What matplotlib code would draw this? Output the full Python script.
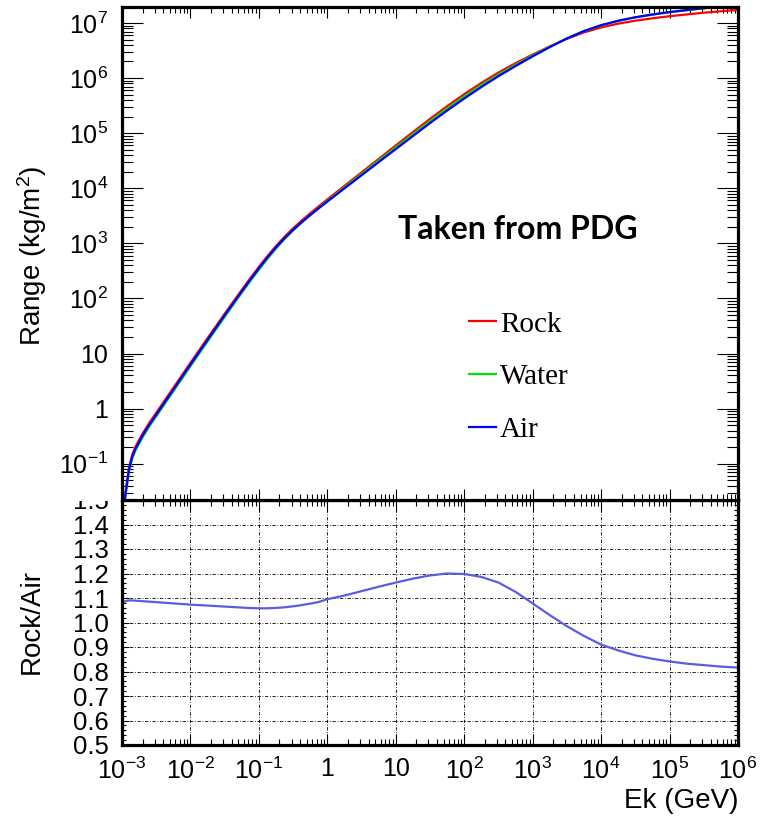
import numpy as np
import matplotlib
matplotlib.use('Agg')
import matplotlib.pyplot as plt
from matplotlib.ticker import LogLocator, NullFormatter, FuncFormatter, MultipleLocator
from matplotlib.patches import Rectangle

plt.rcParams['font.family'] = ['Liberation Sans', 'DejaVu Sans']
plt.rcParams['mathtext.fontset'] = 'custom'
plt.rcParams['mathtext.rm'] = 'Liberation Sans'
plt.rcParams['mathtext.it'] = 'Liberation Sans:italic'
plt.rcParams['mathtext.bf'] = 'Liberation Sans:bold'

# log10 of kinetic energy (GeV)
log_ek = [-3.00, -2.95, -2.90, -2.85, -2.80, -2.70, -2.60, -2.50, -2.25, -2.00, -1.75, -1.50,
          -1.25, -1.125, -1.00, -0.875, -0.75, -0.625, -0.50, -0.375, -0.25, -0.125, 0.00,
          0.25, 0.50, 0.75, 1.00, 1.25, 1.50, 1.75, 2.00, 2.25, 2.50, 2.75, 3.00,
          3.25, 3.50, 3.75, 4.00, 4.25, 4.50, 4.75, 5.00, 5.25, 5.50, 5.75, 6.00]

# log10 of range (kg/m^2)
rock_log10 = [-2.067, -1.524, -1.083, -0.833, -0.683, -0.454, -0.255, -0.075, 0.378, 0.831, 1.279, 1.722,
              2.156, 2.367, 2.573, 2.769, 2.952, 3.120, 3.273, 3.414, 3.546, 3.673, 3.798,
              4.043, 4.288, 4.532, 4.777, 5.019, 5.259, 5.489, 5.708, 5.912, 6.100, 6.270, 6.427,
              6.575, 6.712, 6.829, 6.919, 6.988, 7.041, 7.085, 7.123, 7.155, 7.186, 7.213, 7.238]
water_log10 = [-2.13, -1.59, -1.15, -0.90, -0.75, -0.52, -0.32, -0.14, 0.315, 0.77, 1.22, 1.665,
               2.102, 2.315, 2.522, 2.72, 2.907, 3.079, 3.235, 3.379, 3.514, 3.643, 3.769,
               4.015, 4.259, 4.502, 4.743, 4.983, 5.22, 5.448, 5.666, 5.872, 6.063, 6.241, 6.409,
               6.57, 6.721, 6.852, 6.956, 7.037, 7.10, 7.151, 7.194, 7.231, 7.265, 7.295, 7.322]
air_log10 = [-2.10, -1.56, -1.12, -0.87, -0.72, -0.49, -0.29, -0.11, 0.345, 0.80, 1.25, 1.695,
             2.13, 2.342, 2.548, 2.744, 2.927, 3.094, 3.245, 3.384, 3.514, 3.638, 3.759,
             3.998, 4.236, 4.474, 4.711, 4.948, 5.183, 5.41, 5.629, 5.838, 6.034, 6.219, 6.394,
             6.562, 6.719, 6.854, 6.96, 7.041, 7.104, 7.155, 7.198, 7.235, 7.269, 7.299, 7.326]

# Rock/Air ratio
ratio = [1.08, 1.087, 1.09, 1.09, 1.089, 1.087, 1.085, 1.083, 1.078, 1.073, 1.069, 1.065,
         1.061, 1.059, 1.058, 1.058, 1.0595, 1.062, 1.066, 1.071, 1.077, 1.084, 1.095,
         1.11, 1.128, 1.146, 1.163, 1.179, 1.192, 1.2, 1.198, 1.186, 1.163, 1.125, 1.078,
         1.03, 0.985, 0.945, 0.91, 0.886, 0.866, 0.852, 0.841, 0.832, 0.826, 0.82, 0.816]

W, H = 767, 817
fig = plt.figure(figsize=(W / 100, H / 100), dpi=100)
ax1 = fig.add_axes([122 / W, 1 - 500 / H, 616 / W, 493 / H])
ax2 = fig.add_axes([122 / W, 1 - 745 / H, 616 / W, 245 / H])
ax2.set_zorder(0)
ax1.set_zorder(2)

ek = 10 ** np.array(log_ek)
ax1.plot(ek, 10 ** np.array(rock_log10), color='#ff0000', lw=1.6, label='Rock')
ax1.plot(ek, 10 ** np.array(water_log10), color='#00e000', lw=1.6, label='Water')
ax1.plot(ek, 10 ** np.array(air_log10), color='#0000ff', lw=1.6, label='Air')
ax1.set_yscale('log')
ax1.set_ylim(0.022, 1.95e7)


def logfmt(v, pos):
    e = int(round(np.log10(v)))
    if e == 0:
        return '1'
    if e == 1:
        return '10'
    return r'$\mathregular{10^{%d}}$' % e


for ax in (ax1, ax2):
    ax.set_xscale('log')
    ax.set_xlim(1e-3, 1e6)
    ax.xaxis.set_major_locator(LogLocator(base=10, numticks=20))
    ax.xaxis.set_minor_locator(LogLocator(base=10, subs=np.arange(2, 10), numticks=20))
    ax.xaxis.set_minor_formatter(NullFormatter())
    for s in ax.spines.values():
        s.set_linewidth(2.3)

ax1.yaxis.set_major_locator(LogLocator(base=10, numticks=20))
ax1.yaxis.set_minor_locator(LogLocator(base=10, subs=np.arange(2, 10), numticks=20))
ax1.yaxis.set_minor_formatter(NullFormatter())
ax1.yaxis.set_major_formatter(FuncFormatter(logfmt))
ax1.tick_params(axis='x', which='major', direction='in', length=8, width=0.8,
                top=True, bottom=True, labelbottom=False)
ax1.tick_params(axis='x', which='minor', direction='in', length=4.5, width=0.8,
                top=True, bottom=True)
ax1.tick_params(axis='y', which='major', direction='in', length=15, width=0.8,
                left=True, right=True, labelsize=18, pad=10)
ax1.tick_params(axis='y', which='minor', direction='in', length=8, width=0.8,
                left=True, right=True)

ax1.text(0.643, 0.549, 'Taken from PDG', transform=ax1.transAxes, ha='center', va='center',
         fontsize=23, fontweight='bold', family=['Lato', 'DejaVu Sans'])

ax1.legend(loc='upper left', bbox_to_anchor=(0.5633, 0.383), frameon=False,
           prop={'family': ['Liberation Serif'], 'size': 21}, handlelength=0.94,
           handletextpad=0.12, labelspacing=0.9, borderpad=0, borderaxespad=0)

# ratio panel
ax2.plot(ek, ratio, color='#5c5ce0', lw=1.6)
ax2.set_ylim(0.5, 1.5)
ax2.yaxis.set_major_locator(MultipleLocator(0.1))
ax2.yaxis.set_minor_locator(MultipleLocator(0.02))
ax2.yaxis.set_major_formatter(FuncFormatter(lambda v, p: '%.1f' % v))
ax2.xaxis.set_major_formatter(FuncFormatter(logfmt))
ax2.grid(True, which='major', color='black', lw=0.6, linestyle=(0, (4, 2, 1, 2)))
ax2.tick_params(axis='x', which='major', direction='in', length=8, width=0.8,
                top=True, bottom=True, labelsize=18, pad=9)
ax2.tick_params(axis='x', which='minor', direction='in', length=4, width=0.8,
                top=True, bottom=True)
ax2.tick_params(axis='y', which='major', direction='in', length=5, width=0.8,
                left=True, right=True, labelsize=18.5, pad=9.5)
ax2.tick_params(axis='y', which='minor', direction='in', length=3, width=0.8,
                left=True, right=True)

# the upper pad hides the top of the "1.5" label
fig.add_artist(Rectangle((50 / W, 1 - 501 / H), 71 / W, 21 / H, transform=fig.transFigure,
                         facecolor='white', edgecolor='none', zorder=1))

fig.text(32 / W, 1 - 256 / H, r'Range (kg/m$^{2}$)', rotation=90, ha='center', va='center', fontsize=20)
fig.text(32 / W, 1 - 621 / H, 'Rock/Air', rotation=90, ha='center', va='center', fontsize=20)
fig.text(738 / W, 1 - 801 / H, 'Ek (GeV)', ha='right', va='center', fontsize=20)

fig.savefig('out.png', dpi=100)
